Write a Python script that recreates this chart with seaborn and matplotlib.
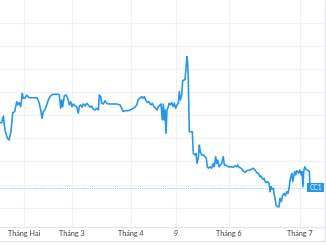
import numpy as np
import pandas as pd
import matplotlib
matplotlib.use("Agg")
import matplotlib.pyplot as plt
import matplotlib.transforms as mtransforms
from matplotlib.patches import Rectangle
import seaborn as sns

# ---- data ----
session = [0, 1.7, 3.3, 5, 7.3, 9, 11, 12.7, 14.7, 16.7, 17.7, 19.3, 20.7, 22.3, 23.3, 25, 26.7,
           28.3, 30, 33, 36, 37.3, 39.3, 41, 42, 43.3, 45, 46.7, 48.3, 50, 51.7, 53.3, 58.3, 59.3,
           60.7, 61.7, 62.7, 64.3, 66, 67.7, 69.3, 70.7, 72, 73.3, 75, 76.7, 78.3, 79.3, 80.7, 82,
           83.3, 85, 86.7, 88.3, 90, 91.7, 93.3, 95, 96.7, 98.3, 99.3, 100.7, 101.7, 103.3, 105,
           106.7, 108.3, 112, 116.7, 120, 121.7, 123.3, 125, 128.3, 131.7, 133.3, 135, 136.7,
           138.3, 140, 141.7, 143.3, 144.3, 145.7, 147.3, 149, 150.7, 152.3, 154, 155.7, 157,
           158.3, 160, 161, 162.3, 163.3, 164.3, 165, 166, 167, 168.3, 169, 170.3, 171.7, 173,
           174.3, 175.7, 177, 178.3, 179.3, 180.3, 181.7, 182.7, 184, 185, 186, 187, 187.7, 188.3,
           189.3, 191, 192.3, 193.3, 195, 196, 197, 198.3, 199.3, 200.3, 201.7, 203.3, 205, 206.3,
           207.3, 208.3, 210, 211.7, 213.3, 214.3, 215.7, 216.7, 217.7, 219, 220.3, 221.7, 223.3,
           224.3, 225.7, 228.3, 231.7, 233.3, 235, 236.7, 237.7, 239, 241, 243.3, 245, 246.7, 250,
           253.3, 255, 256.7, 258.3, 260, 261, 262.7, 264, 265.7, 267.3, 269, 270, 271, 272, 273.3,
           274.3, 275, 276, 277.7, 279, 280, 281.3, 282.7, 284.3, 285.3, 286.7, 288, 289.3, 290,
           291, 292, 292.7, 293.7, 294.7, 295.7, 296.7, 297.7, 298.7, 299.7, 300.3, 301.3, 302,
           303, 303.7, 304.7, 306, 307.3, 308.3, 309.3, 310]
price = [468, 468, 497, 436, 402, 393, 429, 511, 516, 559, 545, 555, 537, 595, 574, 574, 588,
         578, 576, 576, 576, 574, 552, 516, 487, 516, 523, 545, 566, 581, 588, 591, 591, 588,
         530, 566, 537, 584, 588, 574, 545, 559, 537, 549, 540, 537, 509, 540, 545, 535,
         549, 540, 552, 545, 535, 540, 526, 523, 530, 523, 588, 581, 552, 549, 563,
         552, 549, 549, 549, 545, 530, 516, 520, 520, 526, 530, 535, 545,
         569, 574, 581, 574, 581, 566, 555, 559, 545, 552, 537, 530, 523,
         537, 545, 549, 480, 549, 480, 523, 422, 523, 537, 552, 545, 555, 537,
         552, 530, 545, 552, 602, 566, 588, 650, 653, 653, 703, 754, 725, 653,
         429, 429, 429, 335, 328, 335, 292, 314, 371, 342, 328, 328, 321, 314,
         277, 271, 277, 271, 292, 277, 321, 292, 306, 277, 285, 292, 321,
         285, 285, 277, 277, 275, 281, 277, 285, 275, 271, 260, 253, 260, 263,
         271, 263, 252, 249, 234, 237, 223, 227, 208, 213, 206, 169, 191, 180, 184,
         155, 141, 112, 104, 104, 141, 126, 155, 162, 151, 169, 162, 191, 220,
         234, 249, 213, 234, 256, 242, 260, 256, 249, 263, 256, 242, 256,
         191, 256, 277, 266, 263, 260, 256, 187]
tick_pos = [24, 72, 131, 176, 229, 300]
tick_labels = ["Tháng Hai", "Tháng 3", "Tháng 4", "9", "Tháng 6", "Tháng 7"]
grid_levels = [100, 200, 300, 400, 500, 600, 700, 800, 900]
symbol = "CC1"

df = pd.DataFrame({"session": session, "price": price})

sns.set_style("white")
plt.rcParams["font.family"] = ["Lato", "DejaVu Sans"]

W, H = 326, 245
fig = plt.figure(figsize=(W / 100, H / 100), dpi=100)
ax = fig.add_axes([0, (H - 227) / H, 1, 227 / H])

line_color = "#2196F3"
grid_color = "#eef1f6"

for g in grid_levels:
    ax.axhline(g, color=grid_color, lw=0.8, zorder=0)
for t in tick_pos:
    ax.axvline(t, color=grid_color, lw=0.8, zorder=0)

sns.lineplot(data=df, x="session", y="price", ax=ax, color=line_color, linewidth=1.15, zorder=3)

last = price[-1]
ax.axhline(last, color=line_color, lw=0.6, ls=(0, (1, 1.5)), alpha=0.7, zorder=2)

trans = mtransforms.blended_transform_factory(ax.transAxes, ax.transData)
box_x0, box_x1 = 307 / W, 324.3 / W
box_half = 19.5
ax.add_patch(Rectangle((box_x0, last - box_half), box_x1 - box_x0, 2 * box_half,
                       transform=trans, facecolor=line_color, edgecolor="none", zorder=5,
                       clip_on=False))
ax.text((box_x0 + box_x1) / 2, last, symbol, transform=trans, ha="center", va="center",
        color="white", fontsize=4.8, zorder=6)

ax.set_xlim(0, 326)
ax.set_ylim(16.5, 999)
ax.set_xticks(tick_pos)
ax.set_xticklabels(tick_labels, fontsize=5.2, color="#3d3d3d")
ax.set_yticks([])
ax.tick_params(axis="x", length=0, pad=2.5)
ax.set_xlabel("")
ax.set_ylabel("")
for s in ["top", "left", "right"]:
    ax.spines[s].set_visible(False)
ax.spines["bottom"].set_color("#e0e3eb")
ax.spines["bottom"].set_linewidth(0.8)

fig.add_artist(plt.Line2D([0, 1], [(H - 241) / H] * 2, color="#e0e3eb", lw=0.8,
                          transform=fig.transFigure))
fig.add_artist(plt.Line2D([324.5 / W] * 2, [(H - 241) / H, 1], color="#e0e3eb", lw=0.8,
                          transform=fig.transFigure))

fig.savefig("out.png", dpi=100)
